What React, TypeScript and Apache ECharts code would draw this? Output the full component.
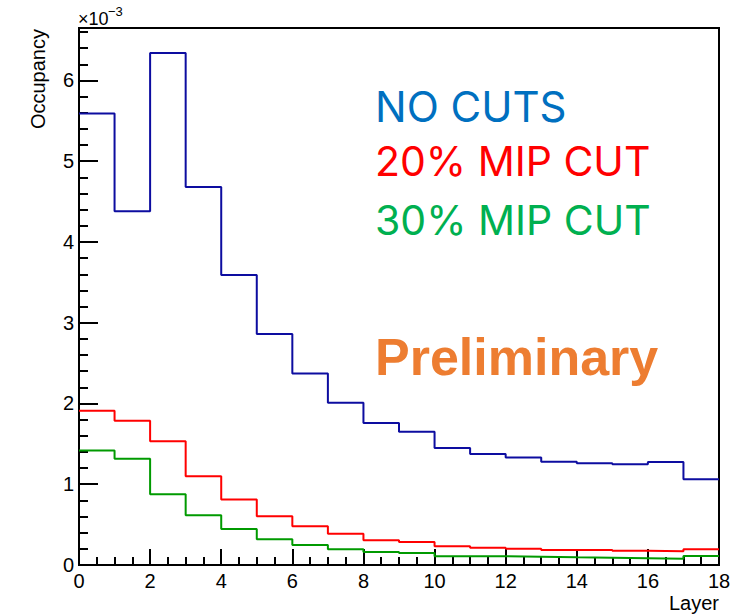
import React, { useEffect, useRef } from "react";
import * as echarts from "echarts";

// Occupancy per layer, in units of 1e-3 (bin i covers [i, i+1))
const layerEdges = [0, 1, 2, 3, 4, 5, 6, 7, 8, 9, 10, 11, 12, 13, 14, 15, 16, 17, 18];
const noCuts = [5.59, 4.38, 6.34, 4.68, 3.59, 2.86, 2.37, 2.01, 1.76, 1.65, 1.45, 1.375, 1.33, 1.28, 1.26, 1.248, 1.276, 1.062];
const cut20 = [1.91, 1.785, 1.533, 1.1, 0.81, 0.603, 0.48, 0.388, 0.306, 0.285, 0.232, 0.215, 0.2, 0.187, 0.186, 0.177, 0.17, 0.195];
const cut30 = [1.417, 1.317, 0.876, 0.615, 0.446, 0.318, 0.248, 0.195, 0.161, 0.149, 0.108, 0.108, 0.103, 0.095, 0.09, 0.085, 0.078, 0.11];

const seriesNames = ["NO CUTS", "20% MIP CUT", "30% MIP CUT"];
const lineColors = ["#0D0DA0", "#FF0000", "#009A00"];
const labelColors = ["#0070C0", "#FF0000", "#00B050"];

function histData(vals: number[]) {
  const pts: [number, number][] = vals.map((v, i) => [layerEdges[i], v]);
  pts.push([layerEdges[vals.length], vals[vals.length - 1]]);
  return pts;
}

export default function App() {
  const ref = useRef<HTMLDivElement>(null);
  useEffect(() => {
    if (!ref.current) return;
    const chart = echarts.init(ref.current, null, { renderer: "svg" });
    const axisFont = "'Liberation Sans', Arial, Helvetica, sans-serif";
    const legendFont = "Inter, 'Open Sans', sans-serif";
    const all = [noCuts, cut20, cut30];
    chart.setOption({
      animation: false,
      backgroundColor: "#fff",
      grid: {
        left: 79,
        top: 28,
        right: 19,
        bottom: 51,
        show: true,
        borderColor: "#000",
        borderWidth: 2,
      },
      xAxis: {
        type: "value",
        min: 0,
        max: 18,
        interval: 2,
        axisLine: { show: true, lineStyle: { color: "#000", width: 2 } },
        axisTick: { show: true, inside: true, length: 16, lineStyle: { color: "#000", width: 2 } },
        minorTick: { show: true, splitNumber: 4, length: 8, lineStyle: { color: "#000", width: 2 } },
        splitLine: { show: false },
        axisLabel: { color: "#000", fontSize: 20, fontFamily: axisFont, margin: 6 },
      },
      yAxis: [
        {
          type: "value",
          min: 0,
          max: 6.65,
          interval: 1,
          axisLine: { show: true, lineStyle: { color: "#000", width: 2 } },
          axisTick: { show: true, inside: true, length: 19, lineStyle: { color: "#000", width: 2 } },
          splitLine: { show: false },
          axisLabel: {
            color: "#000",
            fontSize: 20,
            fontFamily: axisFont,
            margin: 5,
            formatter: (v: number) => (Number.isInteger(v) ? String(v) : ""),
          },
        },
        {
          type: "value",
          position: "left",
          min: 0,
          max: 6.65,
          interval: 0.2,
          axisLine: { show: false },
          axisTick: { show: true, inside: true, length: 9, lineStyle: { color: "#000", width: 2 } },
          splitLine: { show: false },
          axisLabel: { show: false },
        },
      ],
      series: all.map((vals, i) => ({
        type: "line",
        name: seriesNames[i],
        step: "end",
        showSymbol: false,
        yAxisIndex: 0,
        data: histData(vals),
        lineStyle: { color: lineColors[i], width: 2 },
        itemStyle: { color: lineColors[i] },
        z: 3 - i,
      })),
      graphic: [
        {
          type: "text",
          x: 38,
          y: 29,
          rotation: Math.PI / 2,
          style: {
            text: "Occupancy",
            fontSize: 20,
            fontFamily: axisFont,
            fill: "#000",
            align: "right",
            verticalAlign: "middle",
          },
        },
        {
          type: "text",
          x: 719,
          y: 603,
          style: {
            text: "Layer",
            fontSize: 20,
            fontFamily: axisFont,
            fill: "#000",
            align: "right",
            verticalAlign: "middle",
          },
        },
        {
          type: "text",
          x: 78,
          y: 19,
          style: {
            text: "×10",
            fontSize: 18,
            fontFamily: axisFont,
            fill: "#000",
            align: "left",
            verticalAlign: "middle",
          },
        },
        {
          type: "text",
          x: 108,
          y: 11,
          style: {
            text: "−3",
            fontSize: 13,
            fontFamily: axisFont,
            fill: "#000",
            align: "left",
            verticalAlign: "middle",
          },
        },
        ...seriesNames.map((name, i) => ({
          type: "text",
          x: 375,
          y: [106, 161, 219.5][i],
          style: {
            text: name,
            fontSize: i === 0 ? 42 : 41,
            fontFamily: legendFont,
            fill: labelColors[i],
            align: "left",
            verticalAlign: "middle",
          },
        })),
        {
          type: "text",
          x: 375,
          y: 357,
          style: {
            text: "Preliminary",
            fontSize: 52,
            fontWeight: "bold",
            fontFamily: axisFont,
            fill: "#ED7D31",
            align: "left",
            verticalAlign: "middle",
          },
        },
      ],
    });
    return () => chart.dispose();
  }, []);
  return <div ref={ref} style={{ position: "absolute", left: 0, top: 0, width: 738, height: 616 }} />;
}
